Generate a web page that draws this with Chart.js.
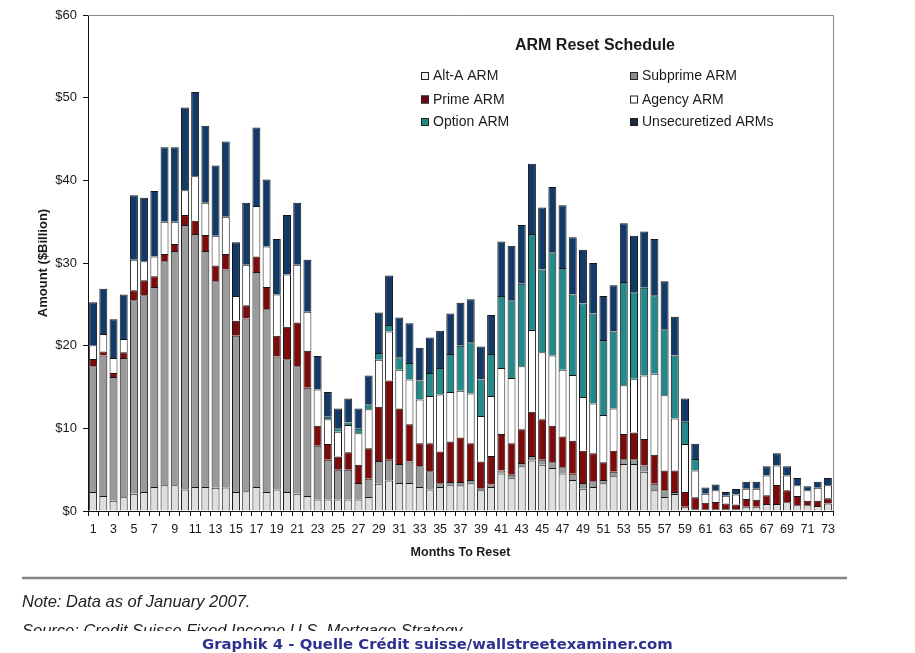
<!DOCTYPE html>
<html>
<head>
<meta charset="utf-8">
<script src="https://cdn.jsdelivr.net/npm/chart.js@4.4.1/dist/chart.umd.min.js"></script>
<style>
  body { margin: 0; background: #fff; }
  #wrap { width: 915px; height: 653px; position: relative; }
</style>
</head>
<body>
<div id="wrap"><canvas id="arm" width="915" height="653"></canvas></div>
<script>
// months to reset (categories)
var months = [1,2,3,4,5,6,7,8,9,10,11,12,13,14,15,16,17,18,19,20,
  21,22,23,24,25,26,27,28,29,30,31,32,33,34,35,36,37,38,39,40,
  41,42,43,44,45,46,47,48,49,50,51,52,53,54,55,56,57,58,59,60,
  61,62,63,64,65,66,67,68,69,70,71,72,73];

// $ billion
var altA = [2.3,1.8,1.25,1.65,2.1,2.3,2.9,3.1,3.1,2.6, 2.9,2.9,2.8,2.85,2.3,2.4,2.9,2.3,2.6,2.3,
  2.1,1.8,1.4,1.4,1.4,1.4,1.4,1.7,3.3,3.7, 3.4,3.4,2.9,2.6,2.9,3.1,3.1,3.35,2.5,2.9,
  4.55,3.95,5.4,6.1,5.6,5.2,4.55,3.75,2.7,2.9, 3.35,4.2,5.7,5.7,4.75,2.5,1.7,2.05,0.5,0.2,
  0.2,0.2,0.2,0.2,0.5,0.5,0.85,0.85,1.05,0.7, 0.7,0.6,0.9];
var subprime = [15.2,17.0,14.95,16.85,23.4,23.8,24.2,27.1,28.35,32.0, 30.6,28.55,25.0,26.35,18.9,20.9,26.0,22.1,16.1,16.05,
  15.4,13.1,6.5,4.8,3.6,3.6,2.0,2.2,2.75,2.5, 2.3,2.6,2.5,2.2,0.45,0.4,0.4,0.4,0.2,0.3,
  0.35,0.45,0.4,0.55,0.6,0.7,0.75,0.75,0.7,0.7, 0.4,0.55,0.55,0.55,0.75,0.8,0.8,0.25,0,0,
  0,0,0,0,0,0,0,0,0,0, 0,0,0];
var prime = [0.9,0.5,0.5,0.7,1.2,1.8,1.3,0.9,0.85,1.2, 1.6,1.95,1.9,1.9,1.8,1.6,1.9,2.7,2.5,3.95,
  5.3,4.5,2.4,1.9,1.6,2.1,2.2,3.7,6.55,9.6, 6.7,4.5,2.8,3.4,3.85,4.9,5.4,4.45,3.3,3.45,
  4.4,3.8,4.1,5.35,4.9,4.4,3.7,4.0,3.9,3.4, 2.15,2.55,3.05,3.25,3.2,3.5,2.4,2.6,1.8,1.45,
  0.8,0.9,0.7,0.6,0.95,0.85,1.05,2.3,1.45,1.1, 0.55,0.65,0.65];
var agency = [1.65,2.1,1.8,1.6,3.7,2.3,2.4,3.9,2.7,3.0, 5.4,3.9,3.6,4.5,3.0,4.9,6.1,4.9,5.0,6.3,
  7.0,4.7,4.4,3.0,3.0,3.3,3.8,4.7,5.7,5.9, 4.7,5.4,5.3,5.7,6.9,6.0,5.65,6.0,5.5,7.25,
  8.0,7.9,7.6,9.9,8.1,8.5,8.1,7.95,6.5,6.0, 5.7,5.1,5.9,6.5,7.7,9.8,9.1,6.3,5.8,3.25,
  1.1,1.4,0.95,1.2,1.25,1.35,2.4,2.35,1.8,1.3, 1.25,1.55,1.55];
var optionArm = [0,0,0,0,0,0,0,0,0,0, 0,0,0,0,0,0,0,0,0,0,
  0,0,0,0.3,0.4,0.3,0.55,0.6,0.8,0.8, 1.5,2.0,2.3,2.8,3.2,4.6,5.45,6.2,4.4,5.1,
  8.7,9.4,10.0,11.6,10.0,12.5,12.3,9.75,11.3,10.9, 9.1,9.3,12.5,10.45,10.6,9.5,8.0,7.6,2.7,1.4,
  0,0,0,0,0,0,0,0,0,0, 0,0,0];
var unsec = [5.2,5.5,4.7,5.4,7.8,7.7,7.9,9.0,9.0,10.0, 10.2,9.3,8.5,9.1,6.5,7.5,9.5,8.1,6.7,7.2,
  7.5,6.3,4.05,3.0,2.4,2.9,2.45,3.5,4.9,6.0, 4.8,4.8,3.95,4.3,4.5,4.9,5.2,5.2,4.0,4.7,
  6.6,6.6,7.1,8.5,7.5,7.9,7.6,6.9,6.5,6.1, 5.3,5.6,7.1,6.85,6.8,6.8,5.8,4.7,2.8,1.85,
  0.75,0.7,0.45,0.65,0.85,0.85,1.1,1.5,1.1,0.9, 0.5,0.75,0.9];

var yTicks = [0,10,20,30,40,50,60];

var FONT = "'Liberation Sans', Arial, sans-serif";

function ds(label, data, color, key) {
  return {
    label: label,
    data: data,
    backgroundColor: color,
    legendColor: key,
    borderColor: '#161616',
    borderWidth: 1,
    barPercentage: 0.78,
    categoryPercentage: 1.0
  };
}

var chartData = {
  labels: months,
  datasets: [
    ds('Alt-A ARM', altA, '#dedede', '#f2f2f2'),
    ds('Subprime ARM', subprime, '#9a9a9a', '#8f8f8f'),
    ds('Prime ARM', prime, '#7d0b0b', '#6e0a14'),
    ds('Agency ARM', agency, '#ffffff', '#ffffff'),
    ds('Option ARM', optionArm, '#23898a', '#1f8a7e'),
    ds('Unsecuretized ARMs', unsec, '#123a68', '#1b2c42')
  ]
};

// title, legend, frame and the text round the chart
var decor = {
  id: 'decor',
  afterDraw: function(chart) {
    var c = chart.ctx, a = chart.chartArea;
    c.save();
    // top and right frame
    c.strokeStyle = '#8a8a8a';
    c.lineWidth = 1;
    c.beginPath();
    c.moveTo(a.left, a.top + 0.5);
    c.lineTo(a.right + 0.5, a.top + 0.5);
    c.lineTo(a.right + 0.5, a.bottom);
    c.stroke();

    c.fillStyle = '#1a1a1a';
    c.textAlign = 'center';
    c.textBaseline = 'middle';
    c.font = 'bold 16px ' + FONT;
    c.fillText('ARM Reset Schedule', 595, 46);

    // two-column legend
    var colX = [421, 630], rowY = [76, 99.5, 122];
    c.font = '14px ' + FONT;
    c.textAlign = 'left';
    chart.data.datasets.forEach(function(d, i) {
      var x = colX[i % 2], y = rowY[Math.floor(i / 2)];
      c.fillStyle = d.legendColor;
      c.fillRect(x, y - 4, 8, 8);
      c.strokeStyle = '#222';
      c.strokeRect(x + 0.5, y - 3.5, 7, 7);
      c.fillStyle = '#1a1a1a';
      c.fillText(d.label, x + 12, y + 0.5);
    });

    // axis titles
    c.font = 'bold 12.5px ' + FONT;
    c.textAlign = 'center';
    c.fillText('Months To Reset', (a.left + a.right) / 2, 553);
    c.save();
    c.translate(43, (a.top + a.bottom) / 2);
    c.rotate(-Math.PI / 2);
    c.font = 'bold 13px ' + FONT;
    c.fillText('Amount ($Billion)', 0, 0);
    c.restore();

    // rule and notes
    c.strokeStyle = '#858585';
    c.lineWidth = 2.5;
    c.beginPath();
    c.moveTo(22, 578);
    c.lineTo(847, 578);
    c.stroke();

    c.fillStyle = '#222';
    c.textAlign = 'left';
    c.textBaseline = 'alphabetic';
    c.font = 'italic 16.5px ' + FONT;
    c.fillText('Note: Data as of January 2007.', 22, 607);
    c.fillText('Source: Credit Suisse Fixed Income U.S. Mortgage Strategy', 22, 636);
    c.fillStyle = '#fff';
    c.fillRect(0, 631, 915, 22);

    var cap = 'Graphik 4 - Quelle Cr\u00e9dit suisse/wallstreetexaminer.com';
    c.font = "bold 14px 'DejaVu Sans', Verdana, sans-serif";
    var w = c.measureText(cap).width;
    var fs = 14 * 471 / w;
    c.font = 'bold ' + fs.toFixed(2) + "px 'DejaVu Sans', Verdana, sans-serif";
    c.fillStyle = '#2f318f';
    c.fillText(cap, 202, 649);
    c.restore();
  }
};

var ctx = document.getElementById('arm').getContext('2d');
var armChart = new Chart(ctx, {
  type: 'bar',
  data: chartData,
  plugins: [decor],
  options: {
    responsive: false,
    animation: false,
    devicePixelRatio: 1,
    layout: { padding: { top: 15, right: 82, left: 0, bottom: 0 } },
    plugins: {
      legend: { display: false },
      tooltip: { enabled: false }
    },
    scales: {
      x: {
        stacked: true,
        afterFit: function(s) { s.height = 142; },
        grid: { drawOnChartArea: false, tickLength: 5, color: '#111', offset: true },
        border: { color: '#111', width: 1 },
        ticks: {
          autoSkip: false,
          maxRotation: 0,
          padding: 6,
          color: '#1a1a1a',
          font: { family: FONT, size: 12.5 },
          callback: function(v, i) { return i % 2 === 0 ? months[i] : ''; }
        }
      },
      y: {
        stacked: true,
        min: yTicks[0],
        max: yTicks[yTicks.length - 1],
        afterFit: function(s) { s.width = 88; },
        afterBuildTicks: function(s) { s.ticks = yTicks.map(function(v) { return { value: v }; }); },
        grid: { drawOnChartArea: false, tickLength: 5, color: '#111' },
        border: { color: '#111', width: 1 },
        ticks: {
          padding: 6,
          color: '#1a1a1a',
          font: { family: FONT, size: 13 },
          callback: function(v) { return '$' + v; }
        }
      }
    }
  }
});
</script>
</body>
</html>
